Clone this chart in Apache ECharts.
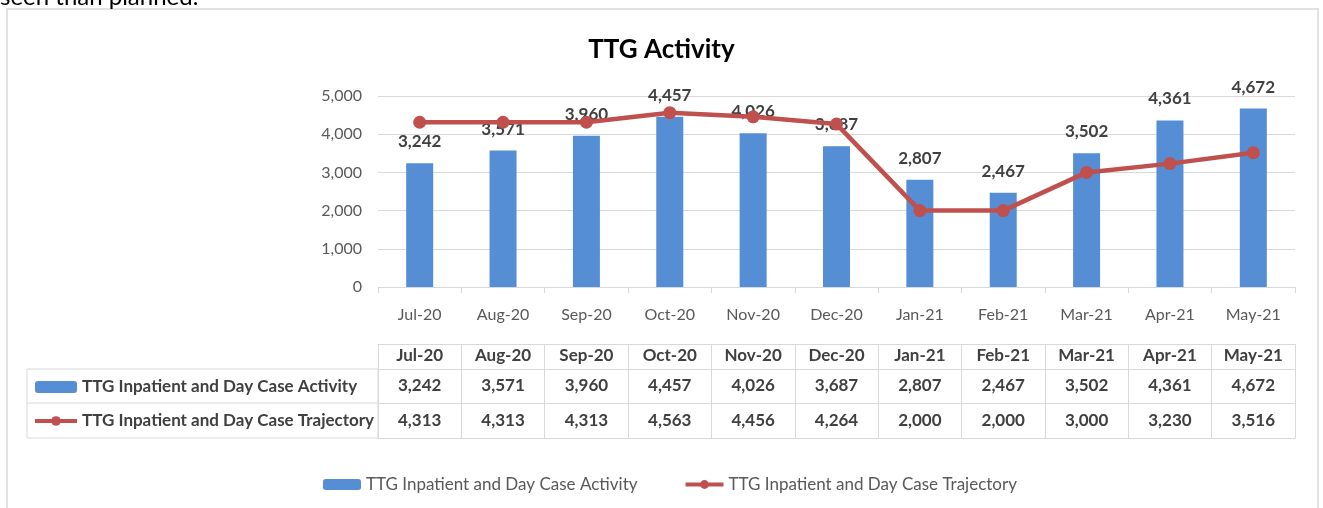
<!DOCTYPE html>
<html><head><meta charset="utf-8">
<script src="https://cdn.jsdelivr.net/npm/echarts@6/dist/echarts.min.js"></script>
<style>html,body{margin:0;padding:0;background:#fff;overflow:hidden}#c{width:1323px;height:508px}</style>
</head><body><div id="c"></div>
<script>
const categories = ['Jul-20','Aug-20','Sep-20','Oct-20','Nov-20','Dec-20','Jan-21','Feb-21','Mar-21','Apr-21','May-21'];
const activity = [3242,3571,3960,4457,4026,3687,2807,2467,3502,4361,4672];
const trajectory = [4313,4313,4313,4563,4456,4264,2000,2000,3000,3230,3516];
const seriesNames = ['TTG Inpatient and Day Case Activity','TTG Inpatient and Day Case Trajectory'];
const yMin = 0, yMax = 5000, yStep = 1000;

const FONT = 'Lato';
const fmt = v => Number(v).toLocaleString('en-US');
const gridCol = '#D9D9D9';
const barCol = '#558ED5';
const lineCol = '#C0504D';

function tableAxis(offset, tickLen, labels, margin, showLabel) {
  return {
    type: 'category', data: categories, gridIndex: 0, position: 'bottom', offset: offset,
    axisLine: {show: true, lineStyle: {color: gridCol, width: 1}},
    axisTick: {show: tickLen > 0, length: tickLen, lineStyle: {color: gridCol}},
    axisLabel: {show: showLabel, interval: 0, margin: margin, fontFamily: FONT, fontSize: 17, fontWeight: 'bold', color: '#404040',
      formatter: (v, i) => labels ? labels[i] : v},
    splitLine: {show: false}
  };
}

const chart = echarts.init(document.getElementById('c'), null, {renderer: 'canvas'});
chart.setOption({
  animation: false,
  title: {text: 'TTG Activity', left: 'center', top: 32,
    textStyle: {fontFamily: FONT, fontSize: 26, fontWeight: 'bold', color: '#000'}},
  grid: {left: 378, right: 28, top: 96, bottom: 221, containLabel: false},
  legend: [
    {data: seriesNames, orient: 'vertical', left: 28, top: 372, itemGap: 14, itemWidth: 42, itemHeight: 12,
      lineStyle: {width: 4},
      textStyle: {fontFamily: FONT, fontSize: 17, fontWeight: 'bold', color: '#404040', lineHeight: 20}},
    {data: seriesNames, orient: 'horizontal', left: 318, top: 471, itemGap: 46, itemWidth: 38, itemHeight: 11,
      lineStyle: {width: 4},
      textStyle: {fontFamily: FONT, fontSize: 17, color: '#595959'}}
  ],
  xAxis: [
    {type: 'category', data: categories, gridIndex: 0, position: 'bottom',
      axisLine: {show: true, lineStyle: {color: gridCol}},
      axisTick: {show: true, length: 6, lineStyle: {color: gridCol}},
      axisLabel: {interval: 0, margin: 20, fontFamily: FONT, fontSize: 16, color: '#595959'}},
    tableAxis(57, 25, null, 3, true),
    tableAxis(82, 34, activity.map(fmt), 8, true),
    tableAxis(116, 35, trajectory.map(fmt), 9, true),
    tableAxis(151, 0, null, 0, false)
  ],
  yAxis: {type: 'value', min: yMin, max: yMax, interval: yStep,
    axisLine: {show: false}, axisTick: {show: false},
    axisLabel: {margin: 16, fontFamily: FONT, fontSize: 16, color: '#595959', formatter: fmt},
    splitLine: {lineStyle: {color: gridCol, width: 1}}},
  series: [
    {name: seriesNames[0], type: 'bar', xAxisIndex: 0, data: activity, barWidth: 27,
      itemStyle: {color: barCol},
      label: {show: true, position: 'top', distance: 13, formatter: p => fmt(p.value),
        fontFamily: FONT, fontSize: 17, fontWeight: 'bold', color: '#404040'}},
    {name: seriesNames[1], type: 'line', xAxisIndex: 0, data: trajectory, symbol: 'circle', symbolSize: 13,
      lineStyle: {color: lineCol, width: 4.5}, itemStyle: {color: lineCol}, z: 3}
  ],
  graphic: [
    {type: 'rect', shape: {x: 7, y: 9, width: 1311, height: 520}, style: {fill: 'none', stroke: gridCol, lineWidth: 1.5}, silent: true},
    {type: 'rect', shape: {x: 27, y: 369, width: 351, height: 69}, style: {fill: 'none', stroke: gridCol, lineWidth: 1}, silent: true},
    {type: 'line', shape: {x1: 27, y1: 403, x2: 378, y2: 403}, style: {stroke: gridCol, lineWidth: 1}, silent: true},
    {type: 'text', x: 0, y: -15, style: {text: 'seen than planned.', font: '24px ' + FONT, fill: '#000', textVerticalAlign: 'top'}, silent: true}
  ]
});
</script>
</body></html>
